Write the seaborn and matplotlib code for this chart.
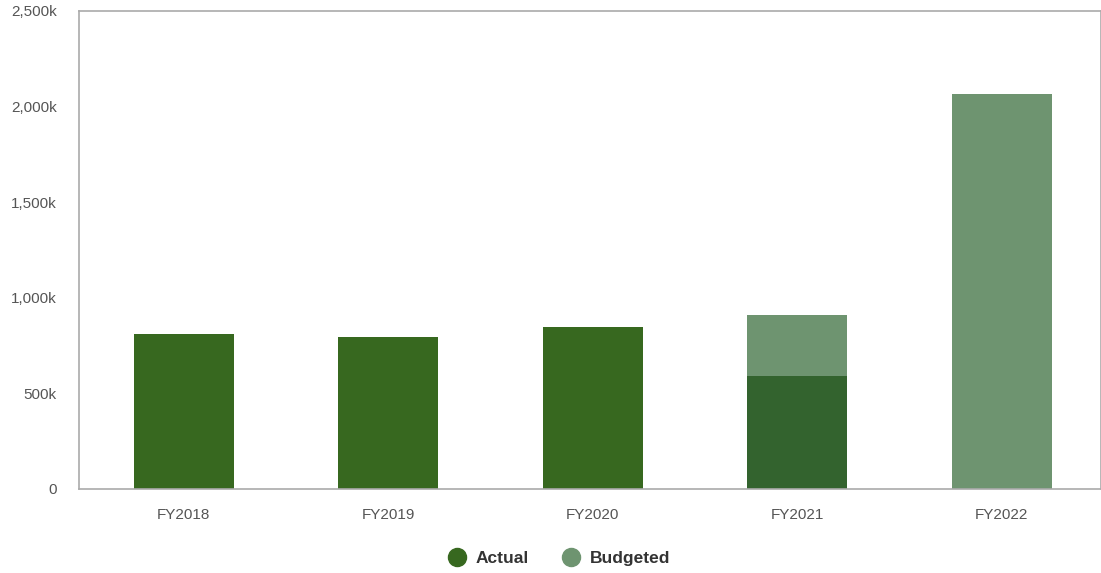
import pandas as pd
import matplotlib
matplotlib.use("Agg")
import matplotlib.pyplot as plt
import seaborn as sns
from matplotlib.ticker import FuncFormatter
from matplotlib.lines import Line2D

# --- Data ---
years = ["FY2018", "FY2019", "FY2020", "FY2021", "FY2022"]
actual = [811000, 796000, 848000, 592000, None]
budgeted = [None, None, None, 911000, 2067000]

actual_colors = ["#37681f", "#37681f", "#37681f", "#33632e", "#37681f"]
budget_color = "#6e9470"

df = pd.DataFrame({"Year": years, "Actual": actual, "Budgeted": budgeted})

sns.set_style("white")
plt.rcParams["font.family"] = ["Liberation Sans", "DejaVu Sans"]

fig = plt.figure(figsize=(11.01, 5.73), dpi=100)
ax = fig.add_axes([79 / 1101, 84 / 573, 1022 / 1101, 478 / 573])

# budgeted behind, actual in front
sns.barplot(data=df, x="Year", y="Budgeted", color=budget_color, width=0.49,
            saturation=1, linewidth=0, ax=ax)
sns.barplot(data=df, x="Year", y="Actual", hue="Year", palette=actual_colors,
            width=0.49, saturation=1, linewidth=0, legend=False, ax=ax)

ax.set_ylim(0, 2500000)
ax.set_xlim(-0.513, 4.485)
ax.set_yticks(range(0, 2500001, 500000))
ax.yaxis.set_major_formatter(FuncFormatter(lambda v, p: "0" if v == 0 else f"{v/1000:,.0f}k"))
ax.set_xlabel("")
ax.set_ylabel("")
ax.tick_params(axis="y", length=0, pad=16, labelsize=11, labelcolor="#555555")
ax.tick_params(axis="x", length=0, pad=14, labelsize=11, labelcolor="#555555")

for s in ax.spines.values():
    s.set_color("#aaaaaa")
    s.set_linewidth(1.2)

handles = [
    Line2D([], [], marker="o", linestyle="", markersize=13, color=actual_colors[0]),
    Line2D([], [], marker="o", linestyle="", markersize=13, color=budget_color),
]
leg = fig.legend(handles, ["Actual", "Budgeted"], loc="center", ncol=2,
                 bbox_to_anchor=(0.504, 0.025), frameon=False, handletextpad=0.1,
                 columnspacing=1.4, prop={"weight": "bold", "size": 12.5})
for t in leg.get_texts():
    t.set_color("#333333")

fig.savefig("out.png", dpi=100)
